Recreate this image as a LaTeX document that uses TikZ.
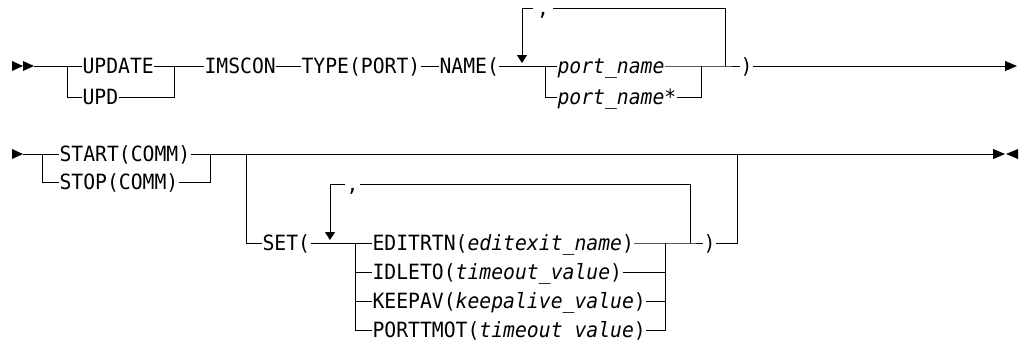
\documentclass[tikz,border=0pt]{standalone}
\usepackage{fontspec}
\newfontfamily\synfont[FakeStretch=0.94]{DejaVu Sans Mono}
\usetikzlibrary{positioning,calc,arrows.meta}

\begin{document}
\begin{tikzpicture}[x=1pt,y=-1pt,line width=1pt,
  every node/.style={font={\synfont\fontsize{21pt}{23pt}\selectfont},
    inner sep=0pt,anchor=west,text height=15.3pt,text depth=0pt},
  loop/.style={-{Triangle[length=8pt,width=10pt]}},
  tip/.style={-{Triangle[length=12pt,width=10pt]}}]
\useasboundingbox (0,0) rectangle (1019,341);

% first line
\fill (12,61) -- (23,66) -- (12,71) -- cycle;
\fill (23,61) -- (34,66) -- (23,71) -- cycle;
\coordinate (r1) at (34,66);
\coordinate (f1) at (67,66);
\coordinate (m1) at (174,66);
\node (update) at (82,66) {UPDATE};
\node (upd) at (82,97) {UPD};
\node (imscon) at (204,66) {IMSCON};
\node (type) at (301,66) {TYPE(PORT)};
\node (name) at (439,66) {NAME(};
\coordinate (f2) at (545,66);
\node (pn) at (557,66) {\textit{port\_name}};
\node (pns) at (557,97) {\textit{port\_name*}};
\coordinate (m2) at (701,66);
\coordinate (lp1) at (725,66);
\node[inner xsep=3.5pt] (c1) at (533,8) {,};
\coordinate (a1) at (522,63);
\node (rp1) at (740,66) {)};
\coordinate (e1) at (1017,66);

\draw (r1) -- (update);
\draw (f1) |- (upd);
\draw (update) -- (m1);
\draw (upd) -| (m1);
\draw (m1) -- (imscon);
\draw (imscon) -- (type);
\draw (type) -- (name);
\draw (name) -- (pn);
\draw (f2) |- (pns);
\draw (pn) -- (lp1) -- (rp1);
\draw (pns) -| (m2);
\draw (lp1) |- (c1);
\draw[loop] (c1) -| (a1);
\draw[tip] (rp1) -- (e1);

% second line
\fill (12,149) -- (23,154) -- (12,159) -- cycle;
\coordinate (r2) at (23,154);
\coordinate (f3) at (42,154);
\node (start) at (59,154) {START(COMM)};
\node (stop) at (59,182) {STOP(COMM)};
\coordinate (m3) at (210,154);
\coordinate (f4) at (246,154);
\coordinate (m5) at (737,154);
\coordinate (e2) at (1005,154);
\node (set) at (262,243) {SET(};
\coordinate (f5) at (355,243);
\node[inner xsep=1pt] (c2) at (345,184) {,};
\coordinate (a2) at (330,240);
\node (edit) at (372,243) {EDITRTN(\textit{editexit\_name})};
\node (idle) at (372,272) {IDLETO(\textit{timeout\_value})};
\node (keep) at (372,301) {KEEPAV(\textit{keepalive\_value})};
\node (ptm) at (372,330) {PORTTMOT(\textit{timeout value})};
\coordinate (m4) at (665,243);
\coordinate (lp2) at (690,243);
\node (rp2) at (703,243) {)};

\draw (r2) -- (start);
\draw (f3) |- (stop);
\draw (start) -- (m3);
\draw (stop) -| (m3);
\draw[tip] (m3) -- (e2);
\fill (1018,149) -- (1006,154) -- (1018,159) -- cycle;
\draw (f4) |- (set);
\draw (set) -- (edit);
\draw (f5) |- (idle);
\draw (f5) |- (keep);
\draw (f5) |- (ptm);
\draw (edit) -- (lp2) -- (rp2);
\draw (idle) -| (m4);
\draw (keep) -| (m4);
\draw (ptm) -| (m4);
\draw (rp2) -| (m5);
\draw (lp2) |- (c2);
\draw[loop] (c2) -| (a2);
\end{tikzpicture}
\end{document}
